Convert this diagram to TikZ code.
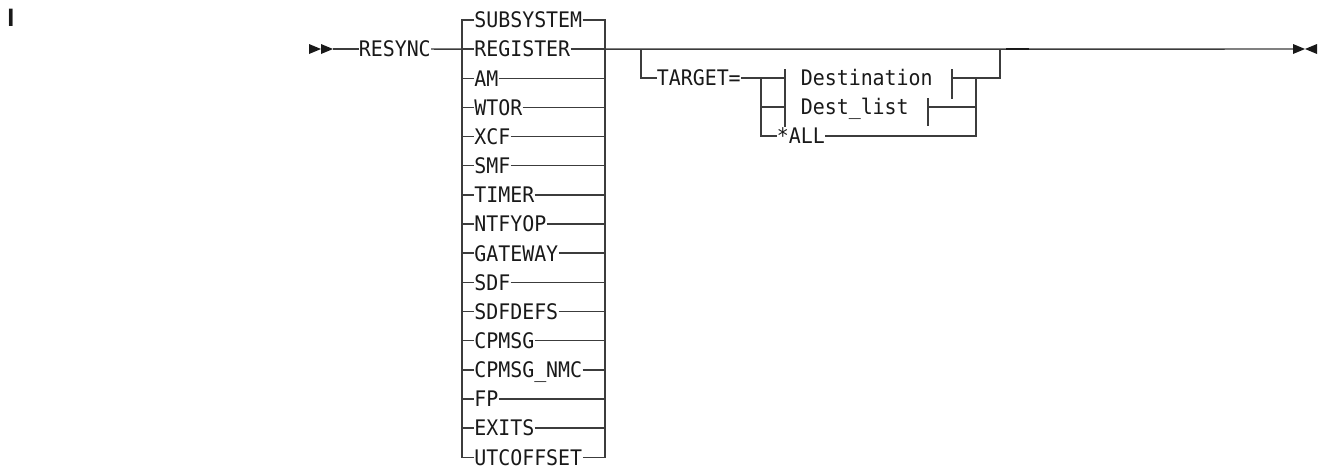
\documentclass[tikz,border=0pt]{standalone}
\usepackage{fontspec}
\newfontfamily\diagfont[FakeStretch=0.93]{DejaVu Sans Mono}
\newfontfamily\markfont{Liberation Sans}
\definecolor{lc}{RGB}{60,60,60}
\definecolor{tc}{RGB}{25,25,25}
\begin{document}
\begin{tikzpicture}[x=0.75pt,y=-0.75pt,
  kw/.style={anchor=west,inner xsep=0pt,inner ysep=0pt,text height=11.7pt,text depth=0pt,
    font=\diagfont\fontsize{16.07}{18}\selectfont,text=tc},
  rail/.style={draw=lc,line width=1.1pt},
  tip/.style={fill=tc}]
\useasboundingbox (0,0) rectangle (1322,468);

% revision mark
\node[font=\markfont\bfseries\fontsize{18.9}{20}\selectfont,text=tc,inner sep=0pt] (rev) at (11,18) {I};

% start arrows
\coordinate (sA) at (309,49);
\coordinate (sB) at (321,49);
\coordinate (s1) at (333,49);
\fill[tip] (sA) ++(0,-5) -- (sB) -- ++(-12,5) -- cycle;
\fill[tip] (sB) ++(0,-5) -- (s1) -- ++(-12,5) -- cycle;

\node[kw] (resync) at (358.5,49) {RESYNC};
\draw[rail] (s1) -- (resync.west);

% first choice group
\foreach \t [count=\i from 0] in {SUBSYSTEM,REGISTER,AM,WTOR,XCF,SMF,TIMER,NTFYOP,GATEWAY,SDF,SDFDEFS,CPMSG,CPMSG\_NMC,FP,EXITS,UTCOFFSET}{
  \node[kw] (c\i) at (474,{20+29.15*\i}) {\t};
  \coordinate (L\i) at (462,{20+29.15*\i});
  \coordinate (R\i) at (605,{20+29.15*\i});
}
\draw[rail] (c0.west) -- (L0) -- (L15) -- (c15.west);
\draw[rail] (c0.east) -- (R0) -- (R15) -- (c15.east);
\foreach \i in {1,...,14}{
  \draw[rail] (L\i) -- (c\i.west);
  \draw[rail] (c\i.east) -- (R\i);
}
\draw[rail] (resync.east) -- (L1);

% main line to the end
\coordinate (m1) at (641,49);
\coordinate (m2) at (1000,49);
\coordinate (d1) at (1006,49);
\coordinate (d2) at (1029,49);
\coordinate (eA) at (1293,49);
\coordinate (eB) at (1305,49);
\coordinate (eC) at (1317,49);
\draw[rail] (R1) -- (eA);
\draw[draw=tc,line width=1.6pt] (d1) -- (d2);
\fill[tip] (eA) ++(0,-5) -- (eB) -- ++(-12,5) -- cycle;
\fill[tip] (eC) ++(0,-5) -- (eB) -- ++(12,5) -- cycle;

% optional TARGET= branch
\coordinate (o1) at (641,78);
\node[kw] (target) at (656.5,78) {TARGET=};
\draw[rail] (m1) -- (o1) -- (target.west);

\coordinate (a0) at (761,78);
\coordinate (a1) at (761,107);
\coordinate (a2) at (761,136);
\coordinate (b0) at (976,78);
\coordinate (b1) at (976,107);
\coordinate (b2) at (976,136);
\coordinate (o2) at (1000,78);

\node[kw] (dest) at (800.5,78) {Destination};
\node[kw] (dlist) at (800.5,107) {Dest\_list};
\node[kw] (all) at (776.5,136) {*ALL};

% fragment ticks
\coordinate (tl0) at (785,78);
\coordinate (tl1) at (785,107);
\coordinate (tr0) at (952,78);
\coordinate (tr1) at (928,107);
\draw[rail] (785,69) -- (785,127);
\draw[rail] (952,69) -- (952,99);
\draw[rail] (928,98) -- (928,126);

\draw[rail] (target.east) -- (tl0);
\draw[rail] (a0) -- (a2) -- (all.west);
\draw[rail] (a1) -- (tl1);
\draw[rail] (tr0) -- (o2) -- (m2);
\draw[rail] (tr1) -- (b1);
\draw[rail] (all.east) -- (b2) -- (b0);
\end{tikzpicture}
\end{document}
